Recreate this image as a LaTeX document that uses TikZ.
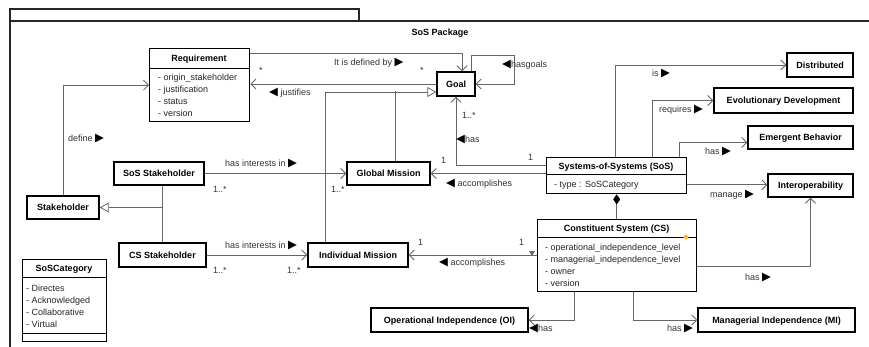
\documentclass[tikz,border=0pt]{standalone}
\usepackage{fontspec}
\setmainfont{Liberation Sans}
\newfontfamily\symfont{DejaVu Sans}
\usetikzlibrary{arrows.meta, positioning, shapes.geometric}
\usepackage{xcolor}
\definecolor{linegray}{HTML}{666666}
\definecolor{txtgray}{HTML}{333333}
\definecolor{handleorange}{HTML}{FFB833}
\newcommand\rtri{{\symfont\fontsize{11.5}{11}\selectfont\color{black}▶}}
\newcommand\ltri{{\symfont\fontsize{11.5}{11}\selectfont\color{black}◀}}

\begin{document}
\begin{tikzpicture}[x=1pt, y=-1pt,
  umlbox/.style={rectangle, draw, line width=1.4pt, fill=white, minimum height=24pt, inner sep=0pt, text height=6.6pt, text depth=0pt, font=\bfseries\fontsize{9}{11}\selectfont},
  ttl/.style={inner sep=0pt, text height=6.6pt, text depth=0pt, font=\bfseries\fontsize{9}{11}\selectfont},
  attr/.style={anchor=north west, align=left, inner sep=0pt, text=black!85, font=\fontsize{9}{12}\selectfont},
  sepline/.style={line width=0.8pt},
  frame/.style={line width=1.2pt, draw=black!85},
  assoc/.style={draw=linegray, line width=0.8pt, -{Straight Barb[length=5pt, width=10pt]}},
  plain/.style={draw=linegray, line width=0.8pt},
  gen/.style={draw=linegray, line width=0.8pt, -{Triangle[open, length=9pt, width=10pt, fill=white]}},
  comp/.style={draw=linegray, line width=0.8pt, {Diamond[length=10pt, width=7pt, fill=black, black]}-},
  lbl/.style={anchor=base west, inner sep=0pt, text=txtgray, font=\fontsize{9}{11}\selectfont},
  handle/.style={diamond, fill=handleorange, inner sep=0pt, minimum size=6pt}]
  \useasboundingbox[fill=white] (0,0) rectangle (869,347);

  % package frame
  \draw[frame] (10,9) rectangle (359,21);
  \draw[frame] (869,21) -| (10,347);
  \node[ttl] (pkg) at (440,32) {SoS Package};

  % classes with compartments
  \node[umlbox, minimum width=100pt, minimum height=73pt, anchor=north west] (req) at (149,48) {};
  \node[ttl] (reqttl) at (199,58) {Requirement};
  \draw[sepline] ([yshift=-20pt]req.north west) -- ([yshift=-20pt]req.north east);
  \node[attr] (reqattr) at (158,73.7) {- origin\_stakeholder\\- justification\\- status\\- version};

  \node[umlbox, minimum width=140pt, minimum height=36pt, anchor=north west] (sos) at (546,157) {};
  \node[ttl] (sosttl) at (616,166) {Systems-of-Systems (SoS)};
  \draw[sepline] ([yshift=-17pt]sos.north west) -- ([yshift=-17pt]sos.north east);
  \node[attr] (sosattr) at (554,180.7) {- type : SoSCategory};

  \node[umlbox, minimum width=159pt, minimum height=72pt, anchor=north west] (cs) at (537,219) {};
  \node[ttl] (csttl) at (616.5,228.5) {Constituent System (CS)};
  \draw[sepline] ([yshift=-18pt]cs.north west) -- ([yshift=-18pt]cs.north east);
  \node[attr] (csattr) at (545,243.7) {- operational\_independence\_level\\- managerial\_independence\_level\\- owner\\- version};
  \node[handle] (cshandle) at (686,237) {};

  \node[umlbox, minimum width=84pt, minimum height=82pt, anchor=north west] (cat) at (22,259) {};
  \node[ttl] (catttl) at (64,268) {SoSCategory};
  \draw[sepline] ([yshift=-18pt]cat.north west) -- ([yshift=-18pt]cat.north east);
  \draw[sepline] ([yshift=9pt]cat.south west) -- ([yshift=9pt]cat.south east);
  \node[attr] (catattr) at (26,284.7) {- Directes\\- Acknowledged\\- Collaborative\\- Virtual};

  % plain classes
  \node[umlbox, minimum width=38pt] (goal) at (456,84) {Goal};
  \node[umlbox, minimum width=90pt, minimum height=23pt] (sosst) at (159,173.5) {SoS Stakeholder};
  \node[umlbox, minimum width=72pt, minimum height=23pt] (stk) at (63,207.5) {Stakeholder};
  \node[umlbox, minimum width=87pt] (csst) at (162.5,255) {CS Stakeholder};
  \node[umlbox, minimum width=83pt, minimum height=23pt] (gm) at (388.5,173.5) {Global Mission};
  \node[umlbox, minimum width=100pt] (im) at (358,255) {Individual Mission};
  \node[umlbox, minimum width=66pt] (dist) at (820,65) {Distributed};
  \node[umlbox, minimum width=139pt, minimum height=25pt] (evo) at (783.5,100.5) {Evolutionary Development};
  \node[umlbox, minimum width=105pt, minimum height=23pt] (emb) at (800.5,137.5) {Emergent Behavior};
  \node[umlbox, minimum width=85pt, minimum height=23pt] (iop) at (810.5,185.5) {Interoperability};
  \node[umlbox, minimum width=157pt] (oi) at (449.5,320) {Operational Independence (OI)};
  \node[umlbox, minimum width=157pt] (mi) at (776.5,320) {Managerial Independence (MI)};

  % associations
  \draw[assoc] (stk.north) |- (req.west);
  \draw[assoc] ([yshift=-5pt]req.north east) -| ([xshift=6pt]goal.north);
  \draw[assoc] (goal.west) -- (goal.west -| req.east);
  \draw[assoc] ([xshift=15pt]goal.north) |- (514,55) |- (goal.east);
  \draw[assoc] (sosst.east) -- (gm.west);
  \draw[assoc] (csst.east) -- (im.west);
  \draw[assoc] ([yshift=10pt]sos.west) -| (goal.south);
  \draw[assoc] (sos.west |- gm.east) -- (gm.east);
  \draw[assoc] (cs.west |- im.east) -- (im.east);
  \fill[linegray] (529,251) -- (535,251) -- (532,256) -- cycle;
  \draw[assoc] ([xshift=-1pt]sos.north) |- (dist.west);
  \draw[assoc] ([xshift=36pt]sos.north) |- (evo.west);
  \draw[assoc] ([xshift=63pt]sos.north) |- ([yshift=-5pt]emb.west);
  \draw[assoc] ([yshift=-9pt]sos.east) -- ([yshift=-9pt]sos.east -| iop.west);
  \draw[assoc] ([yshift=-11pt]cs.east) -| (iop.south);
  \draw[assoc] ([xshift=-42.5pt]cs.south) |- (oi.east);
  \draw[assoc] ([xshift=16.5pt]cs.south) |- (mi.west);

  % generalisations and composition
  \draw[gen] ([xshift=-33pt]im.north) |- ([yshift=-8pt]goal.west);
  \draw[plain] ([xshift=6.5pt]gm.north) -- ++(0,-70);
  \draw[plain] ([xshift=3pt]sosst.south) -- ([xshift=-0.5pt]csst.north);
  \draw[gen] ([xshift=3pt]sosst.south) |- (stk.east);
  \draw[comp] (sos.south) -- (sos.south |- cs.north);

  % labels
  \node[lbl] (ldefby) at (334,65.3) {It is defined by \rtri};
  \node[lbl] (mreq) at (259,74) {*};
  \node[lbl] (mgoal) at (420,74) {*};
  \node[lbl] (ljust) at (269,95.3) {\ltri\ justifies};
  \node[lbl] (lgoals) at (502,67.3) {\ltri hasgoals};
  \node[lbl] (ldefine) at (68,141.3) {define \rtri};
  \node[lbl] (lsosint) at (225,166.3) {has interests in \rtri};
  \node[lbl] (msosst) at (213,192.3) {1..*};
  \node[lbl] (mgm) at (331,192.3) {1..*};
  \node[lbl] (lcsint) at (225,248.3) {has interests in \rtri};
  \node[lbl] (mcsst) at (213,273.3) {1..*};
  \node[lbl] (mim) at (287,273.3) {1..*};
  \node[lbl] (mgoalhas) at (462,118.3) {1..*};
  \node[lbl] (lhas) at (456,142.3) {\ltri has};
  \node[lbl] (msoshas) at (528,160.3) {1};
  \node[lbl] (mgmacc) at (441,163.3) {1};
  \node[lbl] (lgmacc) at (446,186.3) {\ltri\ accomplishes};
  \node[lbl] (mimacc) at (418,245.3) {1};
  \node[lbl] (mcsacc) at (519,245.3) {1};
  \node[lbl] (limacc) at (439,265.3) {\ltri\ accomplishes};
  \node[lbl] (lis) at (652,76.3) {is \rtri};
  \node[lbl] (lreq) at (659,112.3) {requires \rtri};
  \node[lbl] (lemb) at (705,154.3) {has \rtri};
  \node[lbl] (lman) at (710,197.3) {manage \rtri};
  \node[lbl] (liop) at (745,280.3) {has \rtri};
  \node[lbl] (loi) at (529,331.3) {\ltri has};
  \node[lbl] (lmi) at (667,331.3) {has \rtri};
\end{tikzpicture}
\end{document}
